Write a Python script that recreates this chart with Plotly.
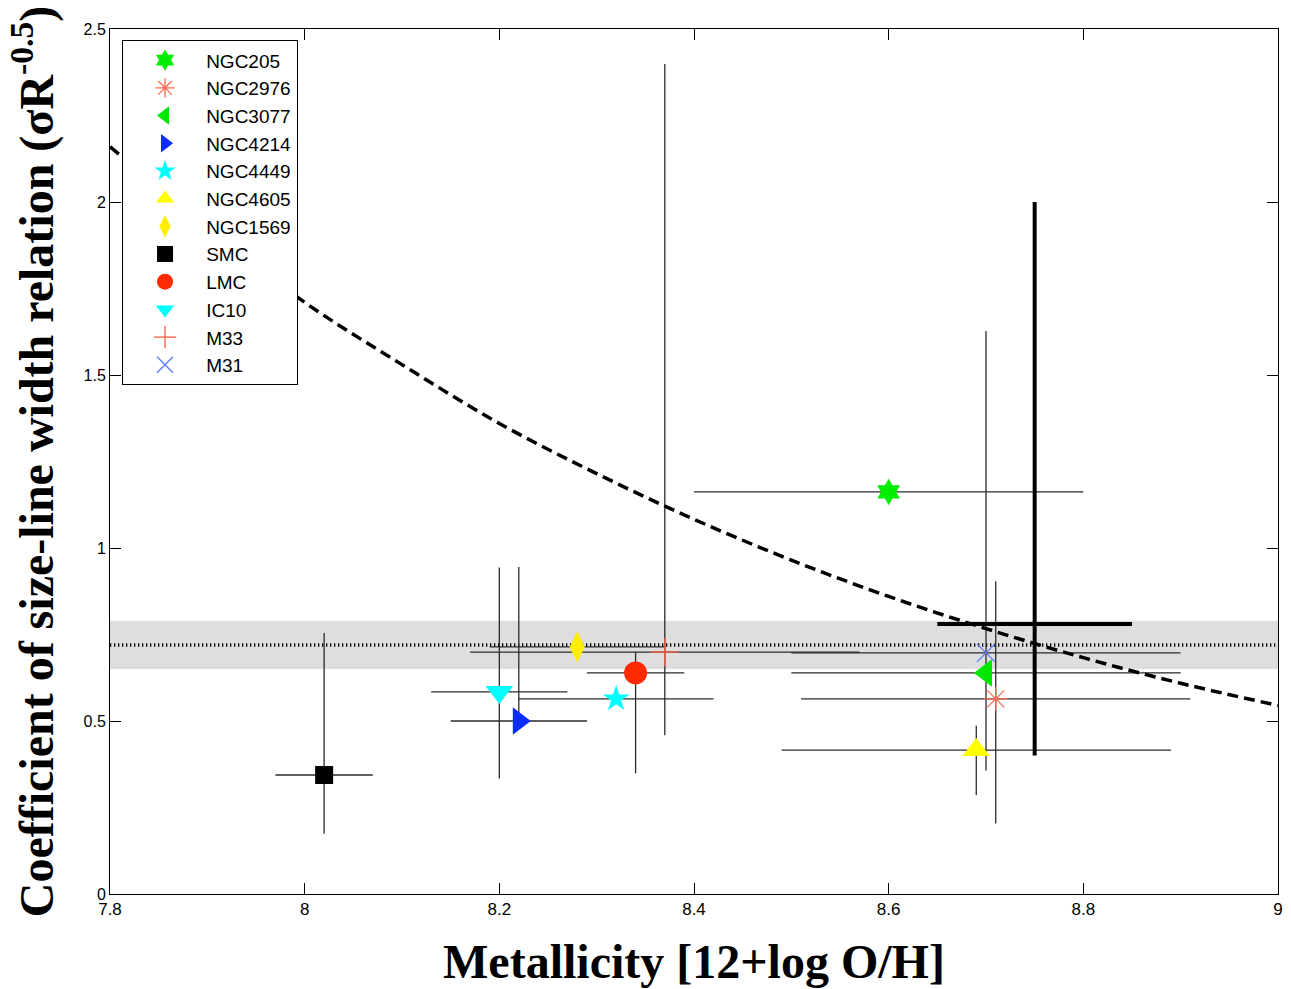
import plotly.graph_objects as go

# ---------------- data ----------------
names = ["NGC205", "NGC2976", "NGC3077", "NGC4214", "NGC4449", "NGC4605",
         "NGC1569", "SMC", "LMC", "IC10", "M33", "M31"]
metallicity = [8.60, 8.71, 8.70, 8.22, 8.32, 8.69, 8.28, 8.02, 8.34, 8.20, 8.37, 8.70]
coefficient = [1.162, 0.564, 0.639, 0.50, 0.564, 0.416, 0.714, 0.344, 0.639, 0.584, 0.699, 0.697]
x_err = [0.20, 0.20, 0.20, 0.07, 0.10, 0.20, 0.09, 0.05, 0.05, 0.07, 0.20, 0.20]
y_err_plus = [0.0, 0.34, 0.0, 0.445, 0.0, 0.07, 0.0, 0.41, 0.06, 0.36, 1.70, 0.93]
y_err_minus = [0.0, 0.36, 0.0, 0.0, 0.0, 0.13, 0.0, 0.17, 0.29, 0.25, 0.24, 0.34]

# mean value with its error (thick cross)
mean_x = [8.75]
mean_y = [0.78]
mean_x_err = [0.10]
mean_y_err_plus = [1.22]
mean_y_err_minus = [0.38]

# average level and its band
avg_level = 0.72
band_low = 0.65
band_high = 0.79

# model curve
curve_x = [7.80, 7.90, 8.00, 8.10, 8.20, 8.30, 8.40, 8.50, 8.60, 8.70, 8.80, 8.90, 9.00]
curve_y = [2.16, 1.925, 1.71, 1.53, 1.36, 1.215, 1.083, 0.965, 0.86, 0.767, 0.683, 0.609, 0.545]

x_ticks = [7.8, 8.0, 8.2, 8.4, 8.6, 8.8, 9.0]
x_tick_labels = ["7.8", "8", "8.2", "8.4", "8.6", "8.8", "9"]
y_ticks = [0, 0.5, 1, 1.5, 2, 2.5]
y_tick_labels = ["0", "0.5", "1", "1.5", "2", "2.5"]
x_range = [7.8, 9.0]
y_range = [0, 2.5]

# ---------------- styles ----------------
symbols = ["hexagram", "asterisk-open", "triangle-left", "triangle-right", "star",
           "triangle-up", "diamond-tall", "square", "circle", "triangle-down",
           "cross-thin-open", "x-thin-open"]
colors = ["#00ee00", "#ff6a50", "#00e600", "#0a2dff", "#00ffff", "#ffff00",
          "#ffee00", "#000000", "#ff2a00", "#00ffff", "#ff5a40", "#5a78ff"]
sizes = [20, 20, 24, 24, 20, 24, 22, 18, 23, 24, 20, 18]

fig = go.Figure()

# gray band
fig.add_trace(go.Scatter(x=x_range, y=[band_low, band_low], mode="lines",
                         line=dict(width=0, color="rgba(0,0,0,0)"),
                         showlegend=False, hoverinfo="skip"))
fig.add_trace(go.Scatter(x=x_range, y=[band_high, band_high], mode="lines",
                         line=dict(width=0, color="rgba(0,0,0,0)"),
                         fill="tonexty", fillcolor="#dedede",
                         showlegend=False, hoverinfo="skip"))
# dotted average line
fig.add_trace(go.Scatter(x=x_range, y=[avg_level, avg_level], mode="lines",
                         line=dict(width=3.5, color="black", dash="1.3px,2.7px"),
                         showlegend=False, hoverinfo="skip"))

# error bars (drawn beneath the markers)
for i in range(len(names)):
    ex = dict(type="data", array=[x_err[i]], color="#2a2a2a", thickness=1.3, width=0,
              visible=x_err[i] > 0)
    ey = dict(type="data", symmetric=False, array=[y_err_plus[i]],
              arrayminus=[y_err_minus[i]], color="#2a2a2a", thickness=1.3, width=0,
              visible=(y_err_plus[i] + y_err_minus[i]) > 0)
    fig.add_trace(go.Scatter(x=[metallicity[i]], y=[coefficient[i]], mode="markers",
                             marker=dict(size=1, opacity=0), error_x=ex, error_y=ey,
                             showlegend=False, hoverinfo="skip"))

# thick mean cross
fig.add_trace(go.Scatter(x=mean_x, y=mean_y, mode="markers", marker=dict(size=1, opacity=0),
                         error_x=dict(type="data", array=mean_x_err, color="black",
                                      thickness=4, width=0),
                         error_y=dict(type="data", symmetric=False, array=mean_y_err_plus,
                                      arrayminus=mean_y_err_minus, color="black",
                                      thickness=4, width=0),
                         showlegend=False, hoverinfo="skip"))

# model curve
fig.add_trace(go.Scatter(x=curve_x, y=curve_y, mode="lines",
                         line=dict(color="black", width=3.5, dash="11px,6px", shape="spline"),
                         showlegend=False, hoverinfo="skip"))

# markers
pad = "\u00a0\u00a0\u00a0\u00a0"
for i in range(len(names)):
    open_sym = symbols[i].endswith("-open")
    fig.add_trace(go.Scatter(
        x=[metallicity[i]], y=[coefficient[i]], mode="markers", name=pad + names[i],
        marker=dict(symbol=symbols[i], size=sizes[i], color=colors[i],
                    line=dict(width=1.3 if open_sym else 0, color=colors[i]))))

fig.update_layout(
    width=1291, height=989,
    margin=dict(l=110, r=13, t=29, b=95),
    paper_bgcolor="white", plot_bgcolor="white",
    legend=dict(x=0.0103, y=0.987, xanchor="left", yanchor="top",
                bgcolor="white", bordercolor="black", borderwidth=1,
                font=dict(family="Liberation Sans, Arial, sans-serif", size=19, color="black"),
                tracegroupgap=0, itemsizing="trace", indentation=22, traceorder="normal"),
    xaxis=dict(range=x_range, tickvals=x_ticks, ticktext=x_tick_labels, automargin=False,
               showgrid=False, zeroline=False, showline=True, linecolor="black", linewidth=1,
               mirror="ticks", ticks="inside", ticklen=11, tickcolor="black",
               tickfont=dict(family="Liberation Sans Narrow, Liberation Sans, Arial", size=17,
                             color="black"),
               title=dict(text="<b>Metallicity [12+log O/H]</b>",
                          font=dict(family="Liberation Serif, Times New Roman, serif",
                                    size=48, color="black"), standoff=25)),
    yaxis=dict(range=y_range, tickvals=y_ticks, ticktext=y_tick_labels, automargin=False,
               showgrid=False, zeroline=False, showline=True, linecolor="black", linewidth=1,
               mirror="ticks", ticks="inside", ticklen=11, tickcolor="black",
               tickfont=dict(family="Liberation Sans, Arial", size=16, color="black"),
               title=dict(text="<b>Coefficient of size-line width relation (σR<sup>-0.5</sup>)</b>",
                          font=dict(family="Liberation Serif, Times New Roman, serif",
                                    size=48, color="black"), standoff=14)),
)

fig.write_html("out.html", config={"displayModeBar": False},
               post_script="document.body.style.margin='0px';")
